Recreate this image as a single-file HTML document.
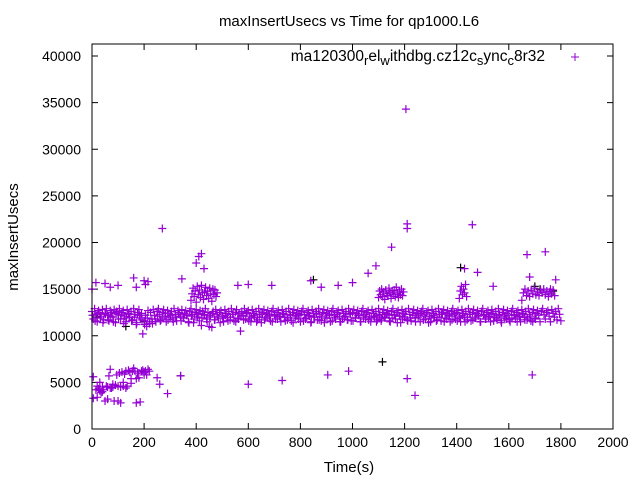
<!DOCTYPE html>
<html><head><meta charset="utf-8"><style>
html,body{margin:0;padding:0;background:#fff}
svg{display:block;font-family:"Liberation Sans",sans-serif}
</style></head><body>
<svg id="chart" width="640" height="480">
<rect x="0" y="0" width="640" height="480" fill="#fff"/>
<text x="349" y="26" font-size="15" text-anchor="middle">maxInsertUsecs vs Time for qp1000.L6</text>
<text x="349" y="472" font-size="15" text-anchor="middle">Time(s)</text>
<text transform="translate(18,237) rotate(-90)" font-size="15" text-anchor="middle">maxInsertUsecs</text>
<g id="ticks"></g>
<g id="points"></g>
<rect x="92" y="44" width="521" height="385" fill="none" stroke="#000" stroke-width="1"/>
<g>
<text x="545" y="61" font-size="15.5" text-anchor="end">ma120300<tspan font-size="13" dy="4">r</tspan><tspan dy="-4">el</tspan><tspan font-size="13" dy="4">w</tspan><tspan dy="-4">ithdbg.cz12c</tspan><tspan font-size="13" dy="4">s</tspan><tspan dy="-4">ync</tspan><tspan font-size="13" dy="4">c</tspan><tspan dy="-4">8r32</tspan></text>
<path d="M571,57h8M575,53v8" stroke="#9400d3" stroke-width="1"/>
</g>
</svg>
<script>
const xTicks=[0,200,400,600,800,1000,1200,1400,1600,1800,2000];
const yTicks=[0,5000,10000,15000,20000,25000,30000,35000,40000];
const bandValues=[12600,11800,12900,12300,11500,12700,12500,12100,12800,11700,12400,12900,12200,11600,12700,12500,12000,12800,11400,12600,
12300,12900,11800,12500,12700,12100,11500,12800,12400,12000,12600,11700,12900,12300,11200,12500,12800,11900,12400,10200,
11600,12200,11000,12700,11300,12500,11800,12800,12200,11500,12600,12900,12300,11700,12500,12800,12100,11500,12700,12400,
12000,12600,11800,12900,12300,11600,12700,12500,12100,12800,11900,12400,12700,12200,11500,12600,12900,12300,11400,12500,
12800,12000,12400,12700,11100,12600,12300,12900,11800,12500,11000,12200,10900,12600,11700,12800,12300,11900,12500,12700,
12100,11500,12800,12400,12000,12600,11700,12900,12300,11600,12500,12800,11900,12400,10500,12600,12200,12900,11800,12500,
12700,12100,11500,12800,12400,12000,12600,11700,12900,12300,11400,12500,12800,11900,12400,12700,12200,11600,12600,12900,
12300,11800,12500,12700,12100,11500,12800,12400,12000,12600,11700,12900,12300,11600,12500,12800,11900,12400,12700,12200,
11500,12600,12900,12300,11800,12500,12700,12100,11400,12800,12400,12000,12600,11700,12900,12300,11600,12500,12800,11900,
12400,12700,12200,11500,12600,12900,12300,11800,12500,12700,12100,11500,12800,12400,12000,12600,11700,12900,12300,11600,
12500,12800,11900,12400,12700,12200,11500,12600,12900,12300,11800,12500,12700,12100,11500,12800,12400,12000,12600,11700,
12900,12300,11600,12500,12800,11900,12400,12700,12200,11500,12600,12900,12300,11800,12500,12700,12100,11400,12800,12400,
12000,12600,11700,12900,12300,11600,12500,12800,11900,12400,12700,12200,11500,12600,12900,12300,11800,12500,12700,12100,
11500,12800,12400,12000,12600,11700,12900,12300,11600,12500,12800,11900,12400,12700,12200,11500,12600,12900,12300,11800,
12500,12700,12100,11500,12800,12400,12000,12600,11700,12900,12300,11600,12500,12800,11900,12400,12700,12200,11500,12600,
12900,12300,11800,12500,12700,12100,11500,12800,12400,12000,12600,11700,12900,12300,11600,12500,12800,11900,12400,12700,
12200,11500,12600,12900,12300,11800,12500,12700,12100,11500,12800,12400,12000,12600,11700,12900,12300,11600,12500,12800,
11900,12400,12700,12200,11500,12600,12900,12300,11800,12500,12700,12100,11500,12800,12400,12000,12600,11700,12900,12300,11600];
const bandStep=5;
const bandLowValues=[12200,11600,12400,11900,11400,12300,11700,12100,11500,12400,11800,12200,11300,11900,12300,11600,12000,11400,12200,11700,
11200,11900,11500,11300,11800,12100,11600,11900,12400,11700,12200,11500,12000,12300,11600,11900,12200,11400,12100,11800,
12300,11600,11900,12200,11500,12000,12400,11700,12100,11400,11900,12200,11600,12000,12300,11500,11800,12100,11700,12400,
11600,11900,12200,11500,12000,12300,11700,11900,12100,11500,12200,11800,12000,12300,11600,11900,12200,11400,12100,11800,
12300,11600,11900,12200,11500,12000,12400,11700,12100,11400,11900,12200,11600,12000,12300,11500,11800,12100,11700,12400,
11600,11900,12200,11500,12000,12300,11700,11900,12100,11500,12200,11800,12000,12300,11600,11900,12200,11400,12100,11800,
12300,11600,11900,12200,11500,12000,12400,11700,12100,11400,11900,12200,11600,12000,12300,11500,11800,12100,11700,12400,
11600,11900,12200,11500,12000,12300,11700,11900,12100,11500,12200,11800,12000,12300,11600,11900,12200,11400,12100,11800,
11700,11900,12200,11500,12000,12300,11700,11900,12100,11500,11800];
const bandLowStep=10;
const clusterTimes=[380,384,388,392,396,400,404,408,412,416,420,424,428,432,436,440,444,448,452,456,460,464,468,472,476,480,
1100,1104,1108,1112,1116,1120,1124,1128,1132,1136,1140,1144,1148,1152,1156,1160,1164,1168,1172,1176,1180,1184,1188,1192,1196,
1410,1414,1418,1422,1426,1430,1434,1438,
1650,1656,1662,1668,1674,1680,1686,1692,1698,1704,1710,1716,1722,1728,1734,1740,1746,1752,1758,1764,1770,1776];
const clusterValues=[13800,14500,15100,14200,14800,13600,15300,14400,14900,14100,15400,14600,13900,14700,15200,14300,14800,14000,15100,14500,13700,15000,14400,14900,14200,14600,
14100,14800,14400,15000,14200,14700,13900,14900,14500,14300,15100,14600,14000,14800,14400,14900,14200,15200,14600,14100,14800,14400,15000,14300,14700,
14000,14800,15300,14400,15000,14600,15500,14200,
13800,14600,15000,14300,14800,14200,14900,14500,15100,14400,14700,14300,14900,14600,15000,14400,14800,14200,14700,14500,14900,14300];
const outlierTimes=[5,5,15,20,25,30,35,40,45,50,55,60,65,70,75,80,85,90,95,100,105,110,115,120,125,130,135,140,145,150,155,160,165,170,175,180,185,190,195,200,205,210,215,100,110,60,20,30,40,70,80,120,130,150,170,180,200,220,250,260,290,340,600,730,905,985,1210,1240,1690,
0,15,50,70,100,160,170,200,205,215,270,345,400,410,420,430,560,600,690,840,880,945,1000,1060,1090,1150,1205,1210,1210,1430,1460,1480,1540,1670,1680,1740,1760,1780];
const outlierValues=[5600,3300,4200,4600,4300,5000,3900,4500,4200,3000,4600,4500,5700,6400,4400,4500,3000,4700,5800,4600,6000,4500,6100,4600,5900,6200,4600,6300,6100,5400,6200,6500,6200,2800,6000,6000,2900,6200,6300,6100,6200,5800,6400,3000,2800,3200,3400,4100,4000,4400,4800,5000,4400,4900,5400,5500,5800,6200,5500,4800,3800,5700,4800,5200,5800,6200,5400,3600,5800,
15000,15700,15600,15200,15400,16200,15200,15900,15500,15800,21500,16100,17800,18500,18800,17200,15400,15500,15400,15900,15200,15400,15700,16700,17500,19500,34300,22000,21500,17200,21900,16800,15300,18700,16300,19000,15000,16000];
const blackTimes=[20,340,850,1115,1415,1700,1720,1770,130,200];
const blackValues=[12000,5700,16000,7200,17300,15300,15000,14800,11000,11500];

const X0=92,X1=613,Y0=429,Y1=56;
function xs(t){return X0+t*(X1-X0)/2000;}
function ys(v){return Y0-v*(Y0-Y1)/40000;}
const NS='http://www.w3.org/2000/svg';
const tg=document.getElementById('ticks');
const pg=document.getElementById('points');
function mk(tag,attrs,parent){const e=document.createElementNS(NS,tag);for(const k in attrs)e.setAttribute(k,attrs[k]);parent.appendChild(e);return e;}
xTicks.forEach(t=>{
  const x=xs(t);
  const l=mk('path',{d:`M${x},429v-6M${x},44v6`,stroke:'#000'},tg);
  
  
  const tx=mk('text',{x:x,y:447,'font-size':14,'text-anchor':'middle'},tg);
  tx.textContent=t;
  
  
});
yTicks.forEach(v=>{
  const y=ys(v);
  const l=mk('path',{d:`M92,${y}h6M613,${y}h-6`,stroke:'#000'},tg);
  
  
  const tx=mk('text',{x:81,y:y+5,'font-size':14,'text-anchor':'end'},tg);
  tx.textContent=v;
  
  
});
function plus(t,v,color,name){
  const x=xs(t),y=ys(v);
  const p=mk('path',{d:`M${x-4},${y}h8M${x},${y-4}v8`,stroke:color,'stroke-width':1.2},pg);
  
  
}
blackValues.forEach((v,i)=>plus(blackTimes[i],v,'#000','black-point'));
bandValues.forEach((v,i)=>plus(i*bandStep,v,'#9400d3','band-point'));
bandLowValues.forEach((v,i)=>plus(i*bandLowStep+2,v,'#9400d3','band-low-point'));
clusterValues.forEach((v,i)=>plus(clusterTimes[i],v,'#9400d3','cluster-point'));
outlierValues.forEach((v,i)=>plus(outlierTimes[i],v,'#9400d3','outlier-point'));
</script>
</body></html>
